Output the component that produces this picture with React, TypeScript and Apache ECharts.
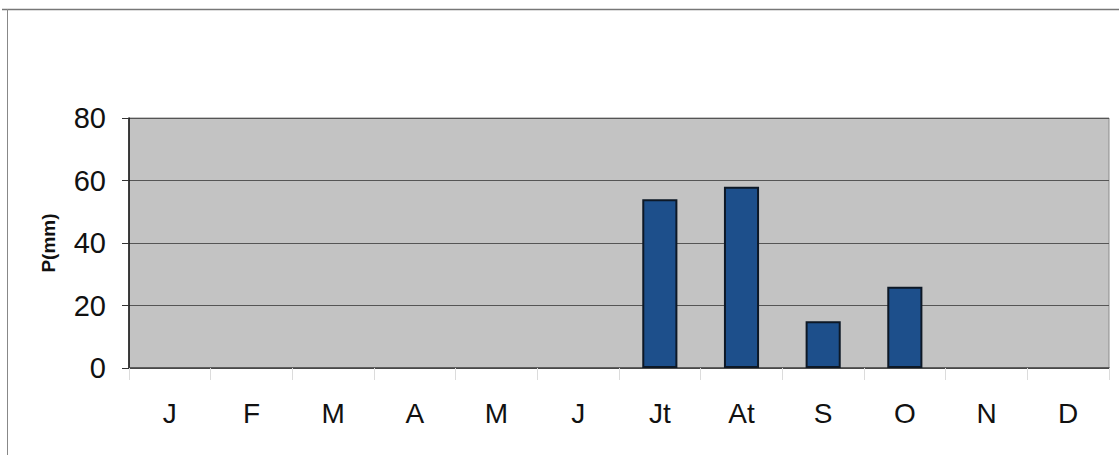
import React, { useEffect, useRef } from "react";
import * as echarts from "echarts";

// Monthly precipitation (mm)
const months = ["J", "F", "M", "A", "M", "J", "Jt", "At", "S", "O", "N", "D"];
const precipitation = [0, 0, 0, 0, 0, 0, 54, 58, 15, 26, 0, 0];
const yTicks = { min: 0, max: 80, interval: 20 };

export default function App() {
  const ref = useRef<HTMLDivElement>(null);

  useEffect(() => {
    if (!ref.current) return;
    const chart = echarts.init(ref.current, undefined, { renderer: "svg" });
    chart.setOption({
      animation: false,
      backgroundColor: "#ffffff",
      textStyle: { fontFamily: "Liberation Sans, Arial, sans-serif" },
      grid: {
        left: 129,
        right: 10,
        top: 118,
        bottom: 90,
        show: true,
        backgroundColor: "#c3c3c3",
        borderColor: "#8a8a8a",
        borderWidth: 1,
      },
      xAxis: {
        type: "category",
        data: months,
        axisLine: { show: true, lineStyle: { color: "#444", width: 1.5 } },
        axisTick: {
          show: true,
          length: 12,
          lineStyle: { color: "#dcdcdc", width: 1 },
        },
        axisLabel: {
          color: "#111",
          fontSize: 28,
          margin: 31,
        },
      },
      yAxis: {
        type: "value",
        min: yTicks.min,
        max: yTicks.max,
        interval: yTicks.interval,
        name: "P(mm)",
        nameLocation: "middle",
        nameGap: 71,
        nameTextStyle: { color: "#111", fontSize: 19, fontWeight: "bold" },
        axisLine: { show: true, lineStyle: { color: "#111", width: 1.5 } },
        axisTick: {
          show: true,
          inside: false,
          length: 7,
          lineStyle: { color: "#333" },
        },
        axisLabel: { color: "#111", fontSize: 29, margin: 23 },
        splitLine: { show: true, lineStyle: { color: "#555", width: 1.2 } },
      },
      series: [
        {
          type: "bar",
          // months without rain get no bar at all
          data: precipitation.map((v) => (v > 0 ? v : "-")),
          barWidth: "43%",
          itemStyle: {
            color: "#1d4f8b",
            borderColor: "#0d1826",
            borderWidth: 2,
          },
        },
      ],
      graphic: [
        {
          type: "line",
          shape: { x1: 2, y1: 9.5, x2: 1119, y2: 9.5 },
          style: { stroke: "#777", lineWidth: 1.5 },
        },
        {
          type: "line",
          shape: { x1: 7.5, y1: 9, x2: 7.5, y2: 455 },
          style: { stroke: "#888", lineWidth: 1 },
        },
      ],
    });
    return () => chart.dispose();
  }, []);

  return (
    <div
      ref={ref}
      style={{ position: "fixed", left: 0, top: 0, width: 1119, height: 458 }}
    />
  );
}
